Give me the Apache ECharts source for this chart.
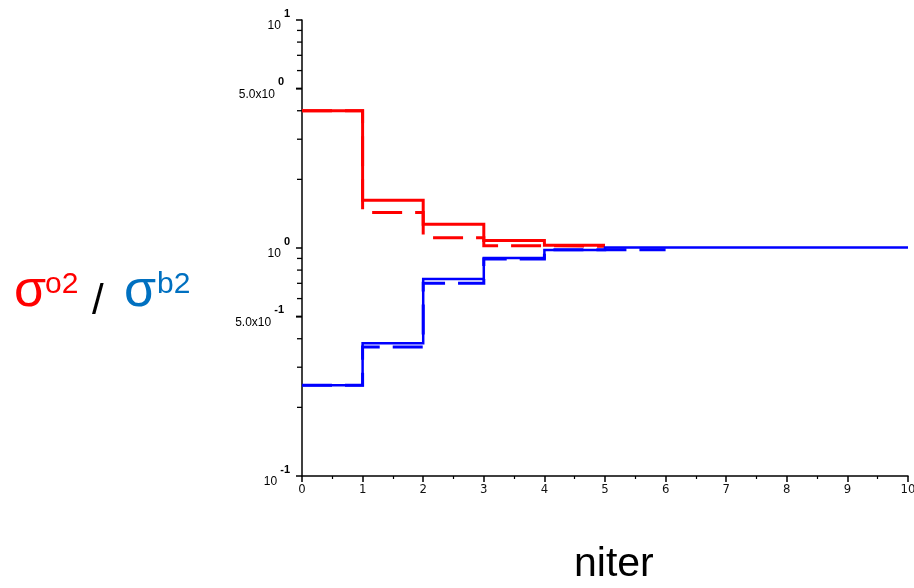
<!DOCTYPE html>
<html>
<head>
<meta charset="utf-8">
<script src="https://cdn.jsdelivr.net/npm/echarts@6/dist/echarts.min.js"></script>
<style>
  html, body { margin: 0; padding: 0; background: #fff; }
  #chart { width: 914px; height: 588px; }
</style>
</head>
<body>
<div id="chart"></div>
<script>
// Iteration index along the x axis
const iterSteps = [0, 1, 2, 3, 4, 5, 6, 7, 8, 9, 10];

// Ratio per iteration (value holds from step i to step i+1; last value repeated to close the step)
const redSolid   = [4.0, 1.62, 1.27, 1.08, 1.028, 1.028];
const redDashed  = [4.0, 1.43, 1.11, 1.024, 1.018, 1.018];
const blueSolid  = [0.25, 0.382, 0.731, 0.905, 0.98, 1.005, 1.005, 1.005, 1.005, 1.005, 1.005];
const blueDashed = [0.25, 0.368, 0.70, 0.895, 0.983, 0.983, 0.983];

// Axis ticks
const xTickLabels = ['0', '1', '2', '3', '4', '5', '6', '7', '8', '9', '10'];
const yMinorTicks = [0.2, 0.3, 0.4, 0.6, 0.7, 0.8, 0.9, 2, 3, 4, 6, 7, 8, 9];
const yMidTicks = [0.5, 5];
const yMidLabels = ['5.0x10|-1', '5.0x10|0'];
const yPowerLabels = { '0.1': '10|-1', '1': '10|0', '10': '10|1' };

const toPairs = vals => vals.map((v, i) => [iterSteps[i], v]);

const labelRich = {
  m: { fontSize: 12, fontFamily: 'Liberation Sans, Arial, sans-serif', color: '#000',
       verticalAlign: 'bottom', lineHeight: 24 },
  s: { fontSize: 11, fontFamily: 'Liberation Sans, Arial, sans-serif', color: '#000',
       fontWeight: 'bold', verticalAlign: 'top', lineHeight: 24, padding: [0, 0, 0, 3] }
};
const richLabel = str => {
  const [base, sup] = str.split('|');
  return '{m|' + base + '}{s|' + sup + '}';
};

const chart = echarts.init(document.getElementById('chart'), null, { renderer: 'canvas' });

const stepLine = (data, color, dashed, width) => ({
  type: 'line',
  step: 'end',
  data: toPairs(data),
  symbol: 'none',
  silent: true,
  animation: false,
  lineStyle: { color: color, width: width, type: dashed ? [30, 13] : 'solid', cap: 'butt', join: 'miter' }
});

const textFont = 'Liberation Sans, Arial, sans-serif';

chart.setOption({
  animation: false,
  backgroundColor: '#fff',
  grid: { left: 302, right: 6, top: 20, bottom: 112, containLabel: false, outerBoundsMode: 'none' },
  xAxis: {
    type: 'value',
    min: 0, max: 10, interval: 1,
    axisLine: { show: true, onZero: false, lineStyle: { color: '#000', width: 1.5 } },
    axisTick: { show: true, length: 6, lineStyle: { color: '#000', width: 1.5 } },
    minorTick: { show: true, splitNumber: 2, length: 3, lineStyle: { color: '#000', width: 1.2 } },
    splitLine: { show: false },
    axisLabel: {
      margin: 7,
      fontSize: 13,
      fontFamily: "'Liberation Sans Narrow', 'DejaVu Sans Condensed', sans-serif",
      color: '#111',
      formatter: v => xTickLabels[Math.round(v)]
    }
  },
  yAxis: {
    type: 'log',
    logBase: 10,
    min: 0.1, max: 10,
    axisLine: { show: true, onZero: false, lineStyle: { color: '#000', width: 1.5 } },
    axisTick: { show: true, length: 6, lineStyle: { color: '#000', width: 1.5 } },
    splitLine: { show: false },
    axisLabel: {
      margin: 12,
      formatter: v => richLabel(yPowerLabels[String(+v.toPrecision(3))] || ''),
      rich: labelRich
    }
  },
  series: [
    stepLine(redSolid, '#ff0000', false, 3),
    stepLine(redDashed, '#ff0000', true, 3),
    stepLine(blueSolid, '#0000ff', false, 2.5),
    stepLine(blueDashed, '#0000ff', true, 3),
    {
      // minor ticks on the logarithmic axis
      type: 'custom',
      coordinateSystem: 'cartesian2d',
      clip: false,
      silent: true,
      data: yMinorTicks.map(v => [0, v]),
      renderItem: (params, api) => {
        const p = api.coord([0, api.value(1)]);
        return {
          type: 'line',
          shape: { x1: p[0] - 5, y1: p[1], x2: p[0], y2: p[1] },
          style: { stroke: '#000', lineWidth: 1.3 }
        };
      }
    },
    {
      // labelled intermediate ticks (0.5 and 5)
      type: 'custom',
      coordinateSystem: 'cartesian2d',
      clip: false,
      silent: true,
      data: yMidTicks.map((v, i) => [0, v, i]),
      renderItem: (params, api) => {
        const p = api.coord([0, api.value(1)]);
        const idx = api.value(2);
        return {
          type: 'group',
          children: [
            { type: 'line', shape: { x1: p[0] - 6, y1: p[1], x2: p[0], y2: p[1] },
              style: { stroke: '#000', lineWidth: 2 } },
            { type: 'text', x: p[0] - 18, y: p[1],
              style: { text: richLabel(yMidLabels[idx]), rich: labelRich,
                       align: 'right', verticalAlign: 'middle' } }
          ]
        };
      }
    }
  ],
  graphic: [
    { type: 'text', left: 14, top: 266,
      style: { text: 'σ', fill: '#ff0000', fontSize: 52, fontFamily: textFont } },
    { type: 'text', left: 45, top: 270,
      style: { text: 'o2', fill: '#ff0000', fontSize: 30, fontFamily: textFont } },
    { type: 'text', left: 92, top: 281,
      style: { text: '/', fill: '#000', fontSize: 42, fontFamily: textFont } },
    { type: 'text', left: 124, top: 266,
      style: { text: 'σ', fill: '#0070c0', fontSize: 52, fontFamily: textFont } },
    { type: 'text', left: 157, top: 270,
      style: { text: 'b2', fill: '#0070c0', fontSize: 30, fontFamily: textFont } },
    { type: 'text', left: 574, top: 544,
      style: { text: 'niter', fill: '#000', fontSize: 41, fontFamily: textFont } }
  ]
});
</script>
</body>
</html>
